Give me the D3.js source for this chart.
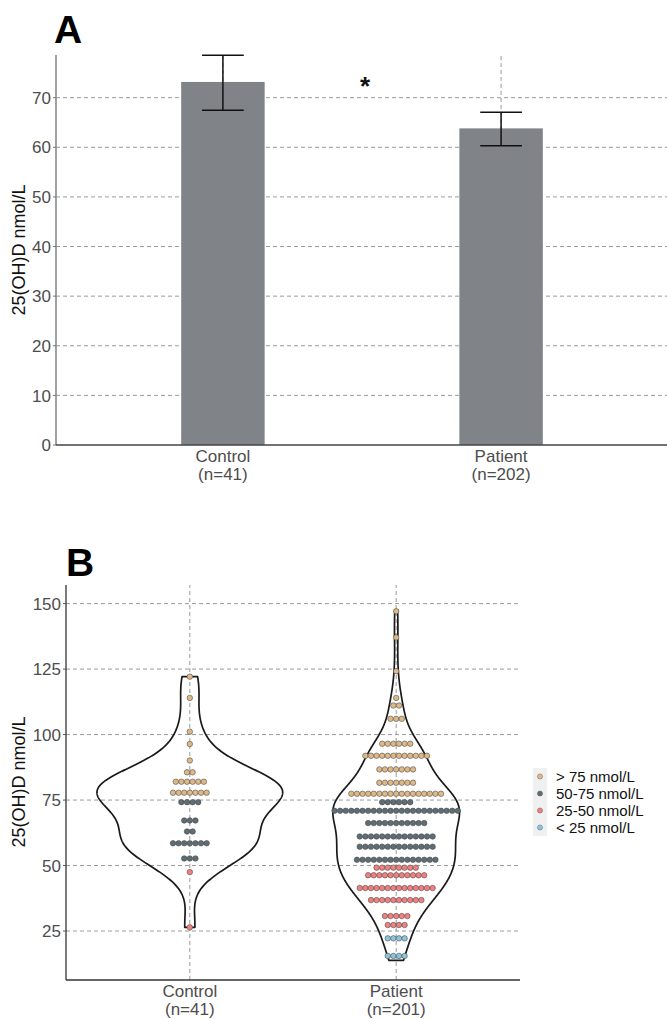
<!DOCTYPE html>
<html><head><meta charset="utf-8">
<script src="https://cdn.jsdelivr.net/npm/d3@7"></script>
<style>
body{margin:0;background:#fff}
svg{display:block}
text{font-family:"Liberation Sans",Arial,Helvetica,sans-serif}
</style>
</head><body>
<svg id="chart" width="667" height="1019"></svg>
<script>
// ---------------- DATA ----------------
const groups = ["Control", "Patient"];
const groupNA = ["(n=41)", "(n=202)"];
const groupNB = ["(n=41)", "(n=201)"];

// Panel A: mean and 95% CI
const barMeans = [73.17, 63.81];
const barUpper = [78.54, 67.04];
const barLower = [67.44, 60.32];
const ticksA = [0, 10, 20, 30, 40, 50, 60, 70];

// Panel B: dot rows (bin value, number of dots)
const controlRowValues = [122.1, 114.0, 101.1, 96.4, 90.1, 85.6, 82.0, 77.8, 74.2, 67.2, 63.0, 58.5, 52.7, 47.5, 26.4];
const controlRowCounts = [1, 1, 1, 1, 1, 2, 6, 7, 4, 3, 2, 7, 3, 1, 1];
const patientRowValues = [147.1, 137.1, 124.2, 114.0, 111.1, 106.0, 96.5, 91.9, 86.7, 81.6, 77.4, 74.2, 70.9, 66.2, 61.1, 57.2, 52.2, 49.2, 46.3, 41.4, 36.8, 30.7, 27.3, 22.2, 15.5];
const patientRowCounts = [1, 1, 1, 1, 2, 3, 6, 12, 7, 7, 17, 6, 23, 11, 14, 14, 15, 8, 11, 14, 10, 5, 4, 4, 4];
const violinMin = [26.4, 13.8];
const violinMax = [122.1, 147.6];
const ticksB = [25, 50, 75, 100, 125, 150];

const legendLabels = ["> 75 nmol/L", "50-75 nmol/L", "25-50 nmol/L", "< 25 nmol/L"];
const legendColors = ["#DEB887", "#5F6D74", "#F08080", "#8EC3DE"];
const classBreaks = [25, 50, 75];

// ---------------- SETUP ----------------
const svg = d3.select("#chart");
const gridColor = "#8f8f8f";
const tickColor = "#4d4d4d";
const tickFont = 17;

// ================= PANEL A =================
const xA = d3.scalePoint().domain(groups).range([56, 668]).padding(0.6);
const yA = d3.scaleLinear().domain([0, 78.6]).range([445, 55]);
const stepA = xA.step();
const gA = svg.append("g");

// gridlines
gA.selectAll(".hgA").data(ticksA.filter(d => d > 0)).join("line")
  .attr("x1", 56).attr("x2", 667)
  .attr("y1", d => yA(d)).attr("y2", d => yA(d))
  .attr("stroke", gridColor).attr("stroke-width", 0.9).attr("stroke-dasharray", "4,3");
gA.selectAll(".vgA").data(groups).join("line")
  .attr("x1", d => xA(d)).attr("x2", d => xA(d))
  .attr("y1", yA(0)).attr("y2", 55)
  .attr("stroke", gridColor).attr("stroke-width", 0.9).attr("stroke-dasharray", "4,3");

// bars
const barW = stepA * 0.3;
gA.selectAll(".bar").data(groups).join("rect")
  .attr("x", d => xA(d) - barW / 2).attr("width", barW)
  .attr("y", (d, i) => yA(barMeans[i]))
  .attr("height", (d, i) => yA(0) - yA(barMeans[i]))
  .attr("fill", "#808387");

// error bars
const capW = stepA * 0.15;
groups.forEach((g, i) => {
  const cx = xA(g);
  gA.append("line").attr("x1", cx).attr("x2", cx)
    .attr("y1", yA(barLower[i])).attr("y2", yA(barUpper[i]))
    .attr("stroke", "#111").attr("stroke-width", 1.5);
  [barLower[i], barUpper[i]].forEach(v => {
    gA.append("line").attr("x1", cx - capW / 2).attr("x2", cx + capW / 2)
      .attr("y1", yA(v)).attr("y2", yA(v))
      .attr("stroke", "#111").attr("stroke-width", 1.5);
  });
});

// axes
gA.append("line").attr("x1", 56).attr("x2", 56).attr("y1", 55).attr("y2", 445)
  .attr("stroke", "#8a8a8a").attr("stroke-width", 1.6);
gA.append("line").attr("x1", 56).attr("x2", 667).attr("y1", 445).attr("y2", 445)
  .attr("stroke", "#444").attr("stroke-width", 1.3);
gA.selectAll(".tkA").data(ticksA).join("line")
  .attr("x1", 53).attr("x2", 56).attr("y1", d => yA(d)).attr("y2", d => yA(d))
  .attr("stroke", "#777").attr("stroke-width", 1);
gA.selectAll(".tlA").data(ticksA).join("text")
  .attr("x", 51).attr("y", d => yA(d)).attr("dy", "0.36em")
  .attr("text-anchor", "end").attr("font-size", tickFont).attr("fill", tickColor)
  .text(d => d);
groups.forEach((g, i) => {
  gA.append("text").attr("x", xA(g)).attr("y", 445 + 16.5)
    .attr("text-anchor", "middle").attr("font-size", tickFont).attr("fill", tickColor).text(g);
  gA.append("text").attr("x", xA(g)).attr("y", 445 + 35)
    .attr("text-anchor", "middle").attr("font-size", tickFont).attr("fill", tickColor).text(groupNA[i]);
});
gA.append("text").attr("transform", "translate(25,250) rotate(-90)")
  .attr("text-anchor", "middle").attr("font-size", 18).attr("fill", "#111").text("25(OH)D nmol/L");
// significance
gA.append("text").attr("x", (xA(groups[0]) + xA(groups[1])) / 2 + 3).attr("y", 95)
  .attr("text-anchor", "middle").attr("font-size", 26).attr("font-weight", "bold").attr("fill", "#111").text("*");
// panel label
svg.append("text").attr("x", 54).attr("y", 43).attr("font-size", 39).attr("font-weight", "bold").attr("fill", "#000").text("A");

// ================= PANEL B =================
const xB = d3.scalePoint().domain(groups).range([66, 520]).padding(0.6);
const yB = d3.scaleLinear().domain([6.3, 157.1]).range([980, 585]);
const stepB = xB.step();
const colorB = d3.scaleThreshold().domain(classBreaks).range(legendColors.slice().reverse());
const gB = svg.append("g");

gB.selectAll(".hgB").data(ticksB).join("line")
  .attr("x1", 66).attr("x2", 520)
  .attr("y1", d => yB(d)).attr("y2", d => yB(d))
  .attr("stroke", gridColor).attr("stroke-width", 0.9).attr("stroke-dasharray", "4,3");
gB.selectAll(".vgB").data(groups).join("line")
  .attr("x1", d => xB(d)).attr("x2", d => xB(d))
  .attr("y1", 980).attr("y2", 585)
  .attr("stroke", gridColor).attr("stroke-width", 0.9).attr("stroke-dasharray", "4,3");

// violins via gaussian KDE (bw nrd0), scale = "area"
const rowsB = [
  {values: controlRowValues, counts: controlRowCounts},
  {values: patientRowValues, counts: patientRowCounts}
];
const samples = rowsB.map(r => r.values.flatMap((v, i) => d3.range(r.counts[i]).map(() => v)));
function nrd0(x) {
  const s = d3.deviation(x);
  const iqr = d3.quantile(x, 0.75) - d3.quantile(x, 0.25);
  let lo = Math.min(s, iqr / 1.34);
  if (!(lo > 0)) lo = s || 1;
  return 0.9 * lo * Math.pow(x.length, -0.2);
}
const dens = samples.map((x, gi) => {
  const bw = nrd0(x), n = x.length;
  const grid = d3.range(512).map(k => violinMin[gi] + (violinMax[gi] - violinMin[gi]) * k / 511);
  return grid.map(v => ({v, d: d3.sum(x, xi => Math.exp(-0.5 * ((v - xi) / bw) ** 2)) / (n * bw * Math.sqrt(2 * Math.PI))}));
});
const maxD = d3.max(dens, a => d3.max(a, p => p.d));
const halfW = stepB * 0.45;
dens.forEach((arr, gi) => {
  const cx = xB(groups[gi]);
  const area = d3.area()
    .y(p => yB(p.v))
    .x0(p => cx - p.d / maxD * halfW)
    .x1(p => cx + p.d / maxD * halfW);
  gB.append("path").attr("d", area(arr))
    .attr("fill", "none").attr("stroke", "#1a1a1a").attr("stroke-width", 1.7)
    .attr("stroke-linejoin", "round");
});

// dots
const dotBinwidth = 2.14; // data units (dot diameter)
const dotD = yB(0) - yB(dotBinwidth);
rowsB.forEach((r, gi) => {
  const cx = xB(groups[gi]);
  const pts = r.values.flatMap((v, i) => d3.range(r.counts[i]).map(k => ({v, off: (k - (r.counts[i] - 1) / 2) * dotD})));
  gB.selectAll(".dot" + gi).data(pts).join("circle")
    .attr("cx", p => cx + p.off).attr("cy", p => yB(p.v))
    .attr("r", dotD / 2 - 0.05)
    .attr("fill", p => colorB(p.v))
    .attr("stroke", "#444").attr("stroke-width", 0.55);
});

// axes
gB.append("line").attr("x1", 66).attr("x2", 66).attr("y1", 585).attr("y2", 980)
  .attr("stroke", "#333").attr("stroke-width", 1.3);
gB.append("line").attr("x1", 66).attr("x2", 520).attr("y1", 980).attr("y2", 980)
  .attr("stroke", "#333").attr("stroke-width", 1.3);
gB.selectAll(".tkB").data(ticksB).join("line")
  .attr("x1", 63).attr("x2", 66).attr("y1", d => yB(d)).attr("y2", d => yB(d))
  .attr("stroke", "#555").attr("stroke-width", 1);
gB.selectAll(".tlB").data(ticksB).join("text")
  .attr("x", 61).attr("y", d => yB(d)).attr("dy", "0.36em")
  .attr("text-anchor", "end").attr("font-size", tickFont).attr("fill", tickColor)
  .text(d => d);
groups.forEach((g, i) => {
  gB.append("text").attr("x", xB(g)).attr("y", 980 + 16.5)
    .attr("text-anchor", "middle").attr("font-size", tickFont).attr("fill", tickColor).text(g);
  gB.append("text").attr("x", xB(g)).attr("y", 980 + 35)
    .attr("text-anchor", "middle").attr("font-size", tickFont).attr("fill", tickColor).text(groupNB[i]);
});
gB.append("text").attr("transform", "translate(25,782) rotate(-90)")
  .attr("text-anchor", "middle").attr("font-size", 18).attr("fill", "#111").text("25(OH)D nmol/L");
svg.append("text").attr("x", 66).attr("y", 576).attr("font-size", 39).attr("font-weight", "bold").attr("fill", "#000").text("B");

// legend
const legStep = 17, legY0 = 802 - 1.5 * legStep;
const leg = svg.append("g");
legendLabels.forEach((lab, i) => {
  const cy = legY0 + i * legStep;
  leg.append("rect").attr("x", 533).attr("y", cy - legStep / 2).attr("width", 14).attr("height", legStep)
    .attr("fill", "#f0f0f0");
  leg.append("circle").attr("cx", 540).attr("cy", cy).attr("r", 2.6)
    .attr("fill", legendColors[i]).attr("stroke", "#555").attr("stroke-width", 0.4);
  leg.append("text").attr("x", 556).attr("y", cy).attr("dy", "0.36em")
    .attr("font-size", 15).attr("fill", "#111").text(lab);
});
</script>
</body></html>
